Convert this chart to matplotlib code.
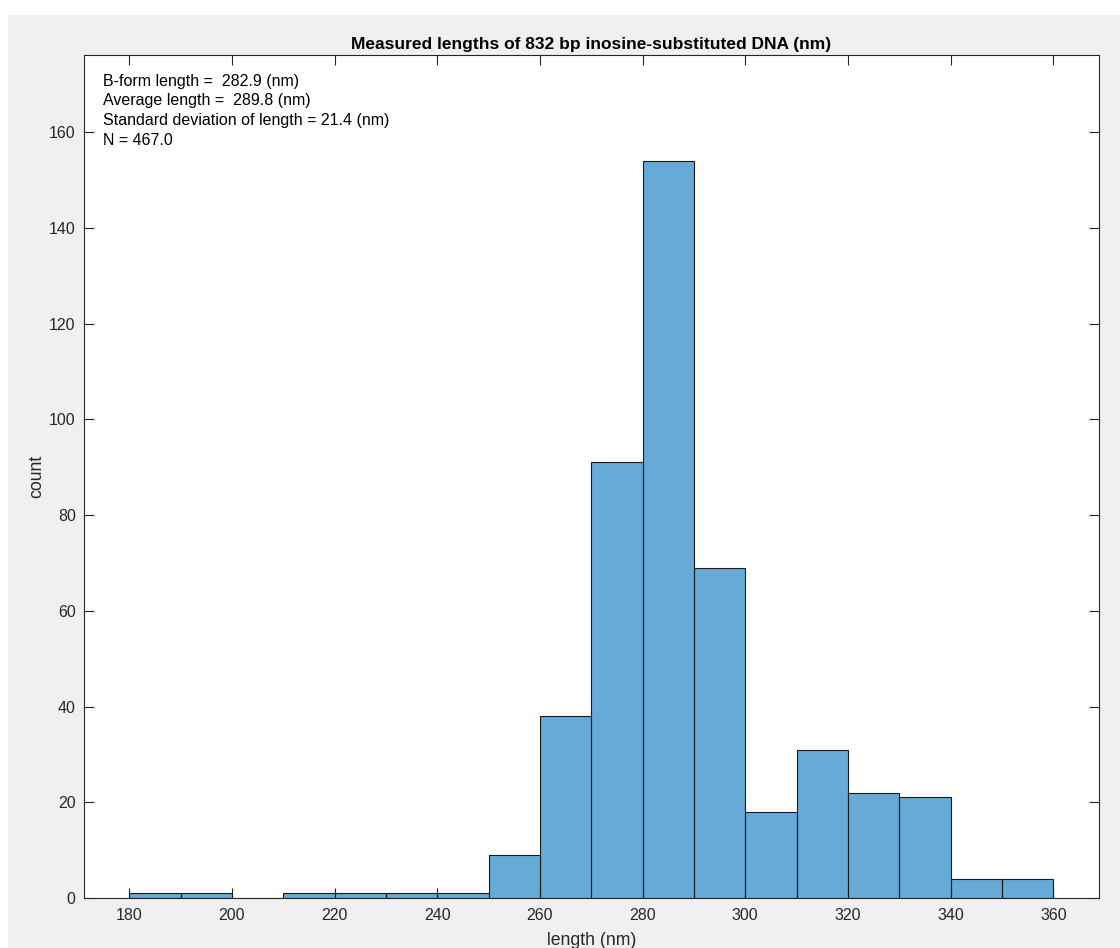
import matplotlib
matplotlib.use("Agg")
import matplotlib.pyplot as plt
import numpy as np
from matplotlib.patches import Rectangle

# Data
bin_edges = [180, 190, 200, 210, 220, 230, 240, 250, 260, 270, 280, 290, 300,
             310, 320, 330, 340, 350, 360]
counts = [1, 1, 0, 1, 1, 1, 1, 9, 38, 91, 154, 69, 18, 31, 22, 21, 4, 4]
x_ticks = [180, 200, 220, 240, 260, 280, 300, 320, 340, 360]
y_ticks = [0, 20, 40, 60, 80, 100, 120, 140, 160]
title = "Measured lengths of 832 bp inosine-substituted DNA (nm)"
info_lines = ["B-form length =  282.9 (nm)",
              "Average length =  289.8 (nm)",
              "Standard deviation of length = 21.4 (nm)",
              "N = 467.0"]

plt.rcParams['font.family'] = ['Liberation Sans', 'DejaVu Sans']

W, H = 1120, 948
fig = plt.figure(figsize=(W / 100, H / 100), dpi=100, facecolor='white')
# gray figure region (screenshot-like white margin top/left)
fig.patches.append(Rectangle((8 / W, 0), 1 - 8 / W, 1 - 15 / H,
                             transform=fig.transFigure, facecolor='#f0f0f0',
                             edgecolor='none', zorder=-10))

left, right, top, bottom = 84, 1099, 55, 898
ax = fig.add_axes([left / W, 1 - bottom / H, (right - left) / W, (bottom - top) / H])
ax.set_facecolor('white')

edges = np.array(bin_edges)
widths = np.diff(edges)
ax.bar(edges[:-1], counts, width=widths, align='edge',
       color='#0072BD', alpha=0.6, edgecolor='none', zorder=2)
ax.bar(edges[:-1], counts, width=widths, align='edge',
       facecolor='none', edgecolor='#1a1a1a', linewidth=0.8, zorder=3)

ax.set_xlim(171.2, 368.9)
ax.set_ylim(0, 176.1)
ax.set_xticks(x_ticks)
ax.set_yticks(y_ticks)

for s in ax.spines.values():
    s.set_color('#262626')
    s.set_linewidth(0.8)

ax.tick_params(direction='in', length=7.5, width=0.8, color='#262626',
               top=True, right=True, labelsize=11.5, labelcolor='#262626')
ax.tick_params(axis='x', pad=7.5)
ax.tick_params(axis='y', pad=6)

ax.set_title(title, fontsize=12.5, fontweight='bold', pad=4, color='black')
ax.set_xlabel("length (nm)", fontsize=12.7, labelpad=6, color='#262626')
ax.set_ylabel("count", fontsize=12.7, labelpad=3, color='#262626')

baselines = [86, 105.5, 125, 145]
for line, b in zip(info_lines, baselines):
    ax.text((103 - left) / (right - left), (bottom - b) / (bottom - top), line,
            transform=ax.transAxes, fontsize=11.5, va='baseline', ha='left',
            color='black')

fig.savefig("out.png", dpi=100, facecolor=fig.get_facecolor())
